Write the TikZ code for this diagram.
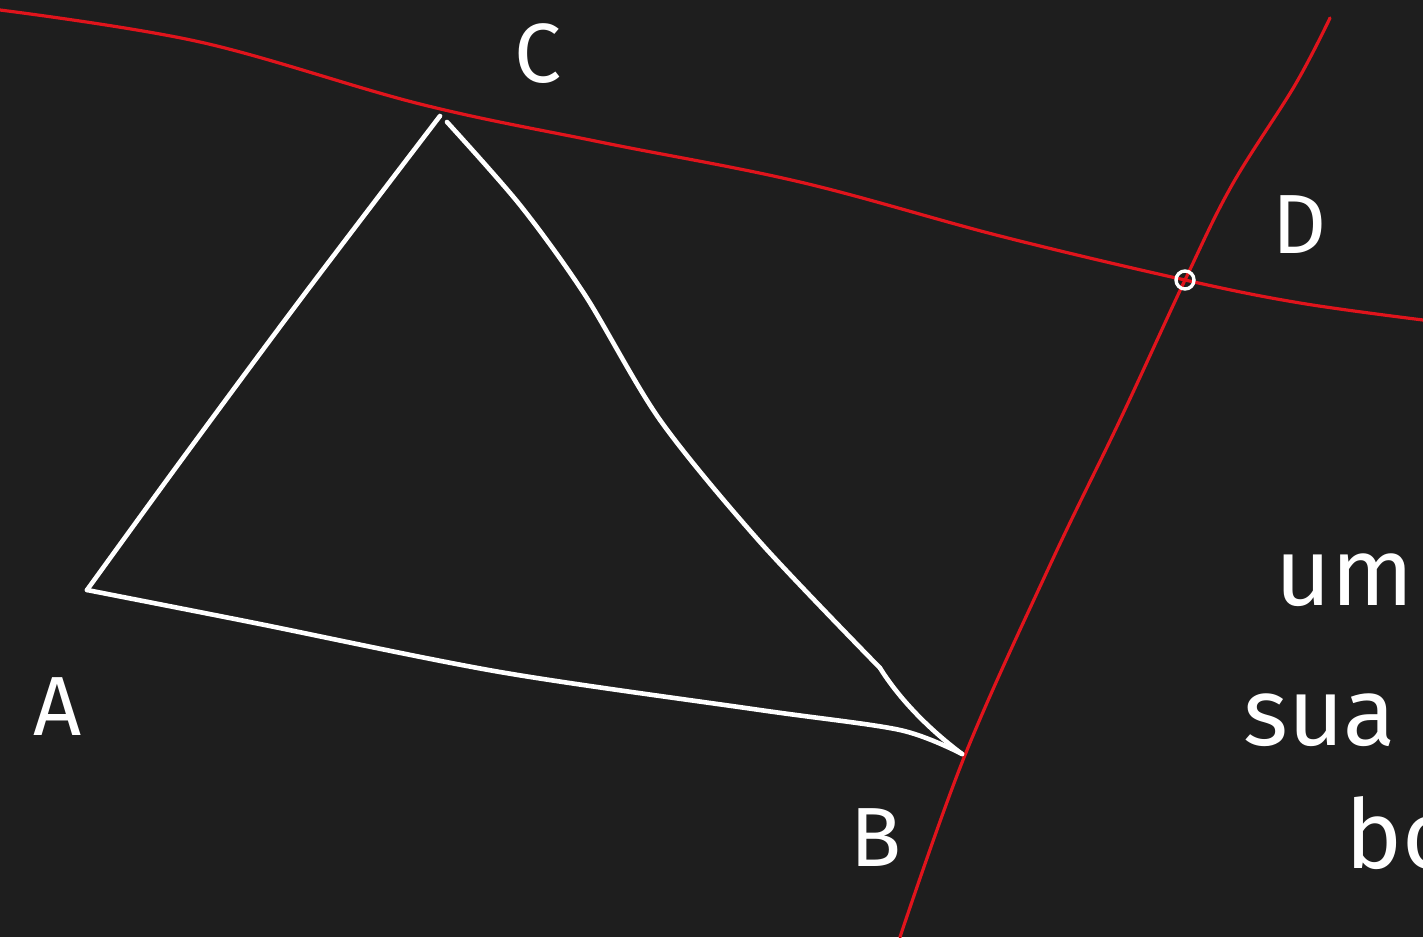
\documentclass[tikz,border=0pt]{standalone}
\usepackage{fontspec}
\setsansfont{Fira Sans}
\definecolor{board}{HTML}{1E1E1E}
\definecolor{chalkred}{HTML}{E0141C}
\tikzset{
  chalk/.style={draw=white, line width=4.6pt, line cap=round, line join=round},
  redline/.style={draw=chalkred, line width=3.2pt, line cap=round},
  lbl/.style={text=white, font=\sffamily\fontsize{84}{84}\selectfont, inner sep=0pt},
  word/.style={text=white, font=\sffamily\fontsize{96}{96}\selectfont, inner sep=0pt, anchor=base west}
}
\begin{document}
\begin{tikzpicture}[x=1pt,y=-1pt]
\useasboundingbox (0,0) rectangle (1423,937);
\clip (0,0) rectangle (1423,937);
\fill[board] (0,0) rectangle (1423,937);
% points
\coordinate (A) at (87,590);
\coordinate (B) at (962,754);
\coordinate (C) at (440,116);
\coordinate (D) at (1185,280);
% red lines
\draw[redline] plot[smooth, tension=0.6] coordinates {(0,10) (200,42) (420,104) (600,142) (800,182) (1000,236) (1185,280) (1300,303) (1423,320)};
\draw[redline] plot[smooth, tension=0.6] coordinates {(1330,18) (1295,85) (1232,185) (1185,280) (1120,420) (1050,565) (965,755) (900,937)};
% triangle
\draw[chalk] plot[smooth, tension=0.5] coordinates {(A) (180,462) (300,300) (C)};
\draw[chalk] plot[smooth, tension=0.5] coordinates {(447,122) (520,205) (585,295) (660,420) (760,542) (880,668)};
\draw[chalk] (880,668) .. controls (900,700) and (930,730) .. (B);
\draw[chalk] plot[smooth, tension=0.5] coordinates {(A) (250,622) (500,672) (760,710) (900,730) (B)};
\node[circle, draw=white, line width=3.4pt, minimum size=18pt, inner sep=0pt] (Dmark) at (D) {};
% labels
\node[lbl] (lA) at (58,707) {A};
\node[lbl] (lB) at (876,838) {B};
\node[lbl] (lC) at (538,54) {C};
\node[lbl] (lD) at (1300,225) {D};
% words cut at the right edge, as in the reference
\node[word] (w1) at (1275,605) {um};
\node[word] (w2) at (1243,745) {sua};
\node[word] (w3) at (1345,868) {bo};
\end{tikzpicture}
\end{document}
